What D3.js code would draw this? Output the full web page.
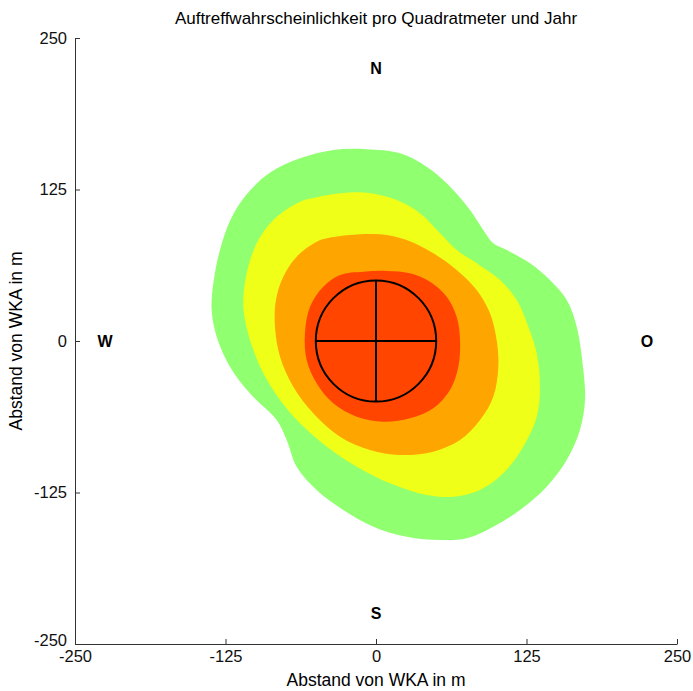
<!DOCTYPE html>
<html><head><meta charset="utf-8">
<script src="https://cdn.jsdelivr.net/npm/d3@7"></script>
<style>body{margin:0;background:#fff}svg{display:block;font-family:"Liberation Sans",Arial,sans-serif}</style>
</head><body>
<script>
const title = "Auftreffwahrscheinlichkeit pro Quadratmeter und Jahr";
const axisLabel = "Abstand von WKA in m";
const ticks = [-250, -125, 0, 125, 250];
const tickLabels = ["-250", "-125", "0", "125", "250"];
const compass = [{t:"N",x:0,y:225},{t:"S",x:0,y:-225},{t:"W",x:-225,y:0},{t:"O",x:225,y:0}];
const turbineRadius = 50;

const greenZone = [[-63.1,150.7],[-35.4,157.6],[-7.7,158.2],[19.9,154.9],[42.1,143.8],[58.7,130.1],[78.1,108.1],[89.1,91.6],[97.4,80.6],[108.6,75.1],[127.9,64.1],[144.5,50.3],[158.4,33.8],[166.7,11.8],[172.2,-23.9],[173.6,-48.7],[169.4,-73.4],[158.4,-98.2],[141.8,-120.2],[119.6,-139.4],[97.4,-153.2],[75.3,-162.8],[53.2,-164.2],[25.5,-161.5],[-2.2,-153.2],[-27.2,-139.4],[-49.3,-122.9],[-65.9,-103.7],[-74.2,-81.7],[-82.5,-65.2],[-104.7,-43.2],[-121.3,-21.2],[-132.3,3.5],[-136.5,25.6],[-135.1,47.6],[-129.6,75.1],[-120.5,100.6],[-107.7,120.6],[-88.8,138.4]];
const yellowZone = [[-49.3,118.6],[-29.9,121.9],[-7.7,122.4],[17.2,116.3],[36.5,105.4],[53.2,88.9],[67.0,75.1],[83.6,64.1],[103.0,50.3],[116.9,33.8],[126.5,11.8],[133.5,-10.1],[136.2,-37.7],[133.5,-62.5],[122.3,-87.2],[105.7,-109.2],[86.4,-122.9],[64.2,-128.5],[42.1,-127.1],[11.6,-117.4],[-16.0,-103.7],[-40.9,-87.2],[-63.1,-67.9],[-79.7,-48.7],[-93.6,-26.7],[-104.7,0.8],[-110.2,28.3],[-107.4,55.9],[-99.1,80.6],[-85.3,99.8],[-63.1,114.9]];
const orangeZone = [[-40.9,84.7],[-21.6,87.5],[3.3,88.0],[25.5,83.3],[47.6,72.4],[67.0,58.6],[83.6,42.1],[94.7,22.9],[100.2,0.8],[101.6,-21.2],[97.4,-46.0],[86.4,-65.2],[69.8,-81.7],[47.6,-91.3],[19.9,-94.1],[-5.0,-89.9],[-29.9,-79.0],[-52.1,-59.7],[-68.7,-37.7],[-79.7,-13.0],[-83.9,11.8],[-83.1,33.8],[-77.0,53.1],[-65.9,69.6],[-49.3,81.9]];
const redZone = [[-10.5,57.2],[8.9,57.8],[28.2,55.9],[44.9,48.9],[58.7,36.6],[67.0,20.0],[69.8,0.8],[68.4,-21.2],[61.5,-40.4],[47.6,-55.5],[28.2,-63.8],[6.1,-66.6],[-16.0,-62.5],[-35.5,-51.4],[-49.3,-34.9],[-57.6,-15.7],[-59.0,6.4],[-54.8,28.3],[-43.8,44.8],[-29.9,54.5]];
const zones = [
  {pts: greenZone, color: "#90FF70"},
  {pts: yellowZone, color: "#EFFF18"},
  {pts: orangeZone, color: "#FFA500"},
  {pts: redZone, color: "#FF4500"}
];

const W = 693, H = 691;
const svg = d3.select("body").append("svg").attr("width", W).attr("height", H);
const x = d3.scaleLinear().domain([-250, 250]).range([75, 677]);
const y = d3.scaleLinear().domain([-250, 250]).range([644, 38]);

const line = d3.line().x(d => x(d[0])).y(d => y(d[1])).curve(d3.curveCatmullRomClosed.alpha(0.5));
svg.append("g").selectAll("path").data(zones).join("path")
  .attr("d", d => line(d.pts)).attr("fill", d => d.color).attr("stroke", "none");

// turbine symbol
const g = svg.append("g").attr("stroke", "#000").attr("stroke-width", 2).attr("fill", "none");
g.append("ellipse").attr("cx", x(0)).attr("cy", y(0))
  .attr("rx", x(turbineRadius) - x(0)).attr("ry", y(0) - y(turbineRadius));
g.append("line").attr("x1", x(-turbineRadius)).attr("x2", x(turbineRadius)).attr("y1", y(0)).attr("y2", y(0));
g.append("line").attr("x1", x(0)).attr("x2", x(0)).attr("y1", y(turbineRadius)).attr("y2", y(-turbineRadius));

// compass letters
svg.append("g").selectAll("text").data(compass).join("text")
  .attr("x", d => x(d.x)).attr("y", d => y(d.y)).attr("dy", "0.36em")
  .attr("text-anchor", "middle").attr("font-weight", "bold").attr("font-size", 16).text(d => d.t);

// axes
const fmt = d => tickLabels[ticks.indexOf(d)];
const ax = svg.append("g").attr("transform", `translate(0,${y(-250)})`)
  .call(d3.axisBottom(x).tickValues(ticks).tickFormat(fmt).tickSizeInner(-5).tickSizeOuter(0).tickPadding(6));
const ay = svg.append("g").attr("transform", `translate(${x(-250)},0)`)
  .call(d3.axisLeft(y).tickValues(ticks).tickFormat(fmt).tickSizeInner(-5).tickSizeOuter(0).tickPadding(8));
[ax, ay].forEach(a => {
  a.selectAll("text").attr("font-size", 16.5).attr("font-family", "Liberation Sans, Arial, sans-serif").attr("fill", "#111");
  a.selectAll("line,path").attr("stroke", "#333");
});
ay.selectAll(".tick text").attr("dy", d => d === -250 ? "0.1em" : "0.32em");

svg.append("text").attr("x", x(0)).attr("y", 24).attr("text-anchor", "middle").attr("font-size", 17).text(title);
svg.append("text").attr("x", x(0)).attr("y", 686).attr("text-anchor", "middle").attr("font-size", 17.5).text(axisLabel);
svg.append("text").attr("transform", `translate(22,${y(0)}) rotate(-90)`).attr("text-anchor", "middle").attr("font-size", 17.5).text(axisLabel);
</script>
</body></html>
